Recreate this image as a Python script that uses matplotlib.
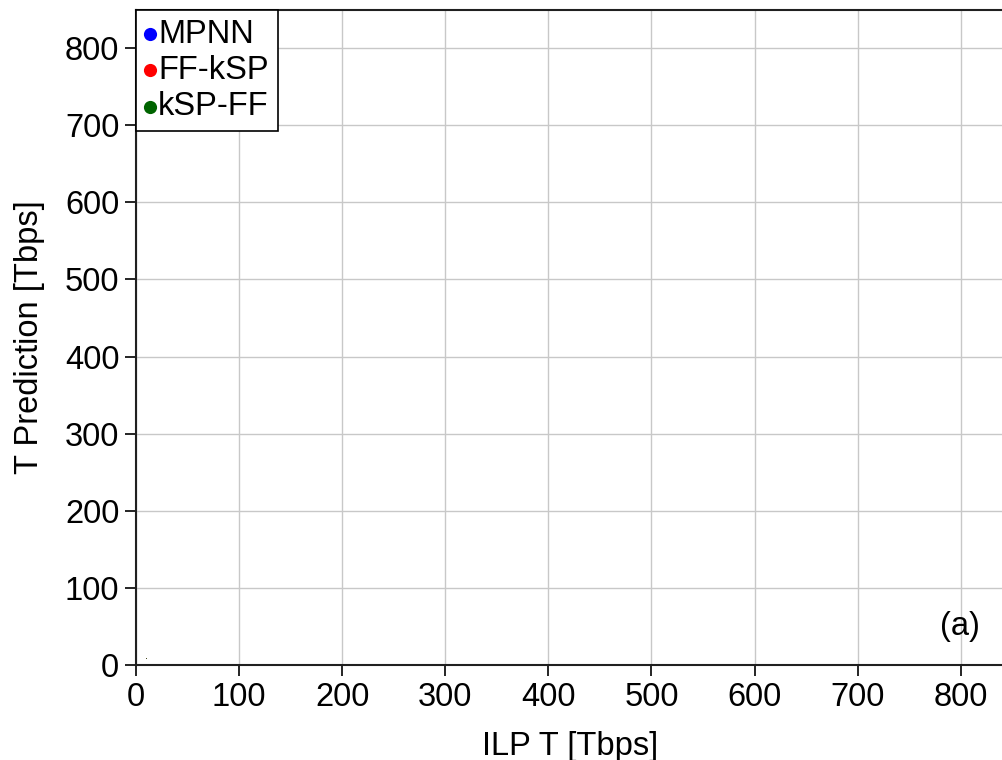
import matplotlib
matplotlib.use('Agg')
import matplotlib.pyplot as plt
import numpy as np

plt.rcParams['font.family'] = ['Liberation Sans', 'DejaVu Sans']

# data (all points sit near the origin)
series = ['MPNN', 'FF-kSP', 'kSP-FF']
colors = ['blue', 'red', 'darkgreen']
ilp_t = [[9.5, 10.0], [9.5, 10.0], [9.5, 10.0]]
pred_t = [[9.0, 9.5], [9.2, 9.6], [9.1, 9.4]]

xticks = [0, 100, 200, 300, 400, 500, 600, 700, 800]
yticks = [0, 100, 200, 300, 400, 500, 600, 700, 800]

fig = plt.figure(figsize=(10.03, 7.6), dpi=100)
ax = fig.add_axes([136/1003, 95/760, 1 - 136/1003 + 0.001, (665-9.5)/760])

for name, c, xs, ys in zip(series, colors, ilp_t, pred_t):
    ax.scatter(xs, ys, s=0.5, color=c, alpha=0.3, lw=0, label=name)

ax.set_xlim(0, 842)
ax.set_ylim(0, 850)
ax.set_xticks(xticks)
ax.set_yticks(yticks)
ax.grid(True, color='#c8c8c8', lw=1)
ax.set_axisbelow(True)
ax.spines['right'].set_visible(False)
for s in ['left', 'bottom', 'top']:
    ax.spines[s].set_color('#202020')
    ax.spines[s].set_linewidth(1.5)
ax.tick_params(labelsize=23.5, length=8, width=1.2, direction='out', pad=4)
ax.set_xlabel('ILP T [Tbps]', fontsize=23.5, labelpad=13)
ax.set_ylabel('T Prediction [Tbps]', fontsize=23.5, labelpad=14)

ax.text(0.972, 0.035, '(a)', transform=ax.transAxes, fontsize=23.5, ha='right', va='bottom')

leg = ax.legend(loc='upper left', fontsize=23.5, markerscale=1, handlelength=0.3,
                handletextpad=0.1, borderpad=0.28, borderaxespad=0, labelspacing=0.16,
                fancybox=False, framealpha=1, edgecolor='black')
for h, c in zip(leg.legend_handles, colors):
    h.set_sizes([90])
    h.set_alpha(1)
    h.set_color(c)
leg.get_frame().set_linewidth(1.2)

plt.savefig('out.png', dpi=100)
